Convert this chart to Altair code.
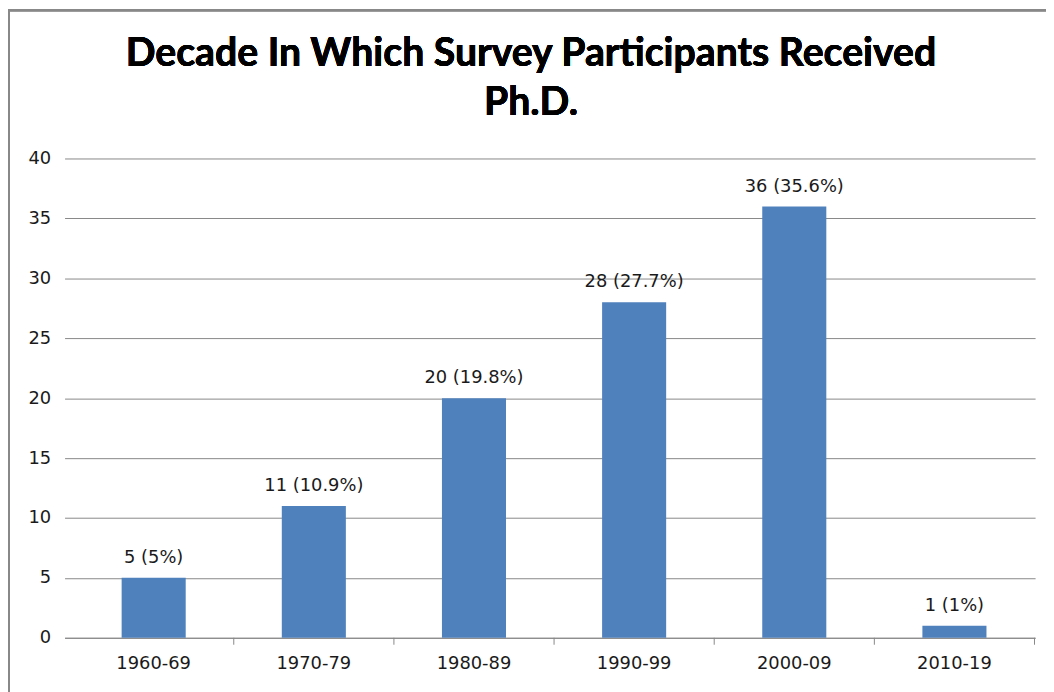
import altair as alt
import pandas as pd

decades = ["1960-69", "1970-79", "1980-89", "1990-99", "2000-09", "2010-19"]
counts = [5, 11, 20, 28, 36, 1]
labels = ["5 (5%)", "11 (10.9%)", "20 (19.8%)", "28 (27.7%)", "36 (35.6%)", "1 (1%)"]
title_lines = ["Decade In Which Survey Participants Received", "Ph.D."]

df = pd.DataFrame({"decade": decades, "count": counts, "label": labels})

W, H = 978, 483
FONT = "DejaVu Sans"
TFONT = "Lato"
LC = "#1a1a1a"

xscale = alt.Scale(paddingInner=0.6, paddingOuter=0.33, align=0.54)
x = alt.X("decade:N", sort=decades, title=None, scale=xscale,
          axis=alt.Axis(labelAngle=0, labelFontSize=18, labelColor=LC,
                        labelFont=FONT, labelPadding=17, domainColor="#888",
                        ticks=False, grid=False))
y = alt.Y("count:Q", title=None,
          scale=alt.Scale(domain=[0, 40], nice=False),
          axis=alt.Axis(values=list(range(0, 41, 5)), labelFontSize=18,
                        labelColor=LC, labelFont=FONT, domain=False,
                        ticks=False, labelPadding=14, gridColor="#888"))

bars = alt.Chart(df).mark_bar(color="#4F81BD").encode(x=x, y=y)
text = alt.Chart(df).mark_text(baseline="bottom", dy=-11, fontSize=18,
                               font=FONT, color=LC).encode(
    x=alt.X("decade:N", sort=decades, scale=xscale), y="count:Q", text="label:N")

ticks = alt.Chart(df).mark_rule(color="#888", strokeWidth=1, xOffset=80.7).encode(
    x=alt.X("decade:N", sort=decades, scale=xscale),
    y=alt.value(H), y2=alt.value(H + 7))

frame = alt.Chart(df).mark_rect(fill=None, stroke="#888", strokeWidth=2.5).encode(
    x=alt.value(-56.5), x2=alt.value(W + 40), y=alt.value(-149.5), y2=alt.value(H + 80))

t1 = alt.Chart(df).mark_text(fontSize=39.5, font=TFONT, fontWeight="bold",
                             color="#000", align="center", baseline="alphabetic").encode(
    x=alt.value(470), y=alt.value(-93), text=alt.value(title_lines[0]))
t2 = alt.Chart(df).mark_text(fontSize=39.5, font=TFONT, fontWeight="bold",
                             color="#000", align="center", baseline="alphabetic").encode(
    x=alt.value(470), y=alt.value(-44), text=alt.value(title_lines[1]))

chart = alt.layer(frame, bars, ticks, text, t1, t2).properties(
    width=W, height=H,
    autosize=alt.AutoSizeParams(type="none"),
    padding={"left": 57, "top": 149, "right": 11, "bottom": 52},
).configure_view(stroke=None)

chart.save("out.html", embed_options={"renderer": "svg", "actions": False})
